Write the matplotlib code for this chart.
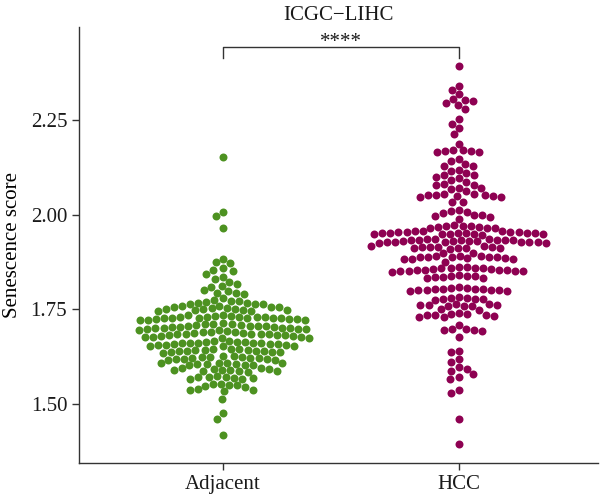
import matplotlib
matplotlib.use("Agg")
import matplotlib.pyplot as plt
import numpy as np

# senescence scores, one group per list
adjacent_scores = [
    2.152, 2.007, 1.997, 1.965,
    1.883, 1.874, 1.872, 1.860, 1.854, 1.852, 1.843, 1.835, 1.829, 1.821,
    1.816, 1.812, 1.810, 1.801, 1.799, 1.794, 1.792, 1.790,
    1.779, 1.775, 1.773, 1.771, 1.770, 1.768, 1.767, 1.765, 1.764, 1.763,
    1.760, 1.758, 1.757, 1.756, 1.755, 1.754, 1.753, 1.752, 1.751, 1.750,
    1.749, 1.748, 1.747, 1.746, 1.745,
    1.735, 1.734, 1.733, 1.732, 1.731, 1.731, 1.730, 1.729, 1.729, 1.728,
    1.728, 1.727, 1.727, 1.726, 1.726, 1.725, 1.724, 1.724, 1.723, 1.722,
    1.721,
    1.713, 1.712, 1.711, 1.710, 1.709, 1.708, 1.707, 1.706, 1.706, 1.705,
    1.704, 1.704, 1.703, 1.702, 1.702, 1.701, 1.700, 1.699, 1.698, 1.697,
    1.696, 1.695,
    1.692, 1.691, 1.690, 1.689, 1.688, 1.687, 1.686, 1.686, 1.685, 1.684,
    1.684, 1.683, 1.682, 1.681, 1.680, 1.679, 1.678, 1.677, 1.676, 1.675,
    1.674,
    1.667, 1.666, 1.665, 1.664, 1.663, 1.662, 1.662, 1.661, 1.660, 1.660,
    1.659, 1.658, 1.658, 1.657, 1.656, 1.655, 1.654, 1.653, 1.652,
    1.646, 1.645, 1.644, 1.643, 1.643, 1.642, 1.641, 1.640, 1.640, 1.639,
    1.638, 1.637, 1.636, 1.635,
    1.627, 1.626, 1.625, 1.624, 1.623, 1.622, 1.622, 1.621, 1.620, 1.619,
    1.618, 1.617, 1.616,
    1.609, 1.608, 1.607, 1.607, 1.606, 1.605, 1.605, 1.604, 1.603, 1.602,
    1.595, 1.594, 1.593, 1.592, 1.591, 1.590, 1.589, 1.588, 1.587, 1.586, 1.585,
    1.573, 1.572, 1.571, 1.570, 1.569, 1.568, 1.566, 1.565,
    1.554, 1.552, 1.551, 1.549, 1.548, 1.546,
    1.540, 1.538, 1.536, 1.534,
    1.513, 1.476, 1.461, 1.418,
]

hcc_scores = [
    2.393, 2.341, 2.329, 2.319, 2.307, 2.303, 2.300, 2.296, 2.291, 2.279,
    2.254, 2.241, 2.230, 2.213, 2.188,
    2.172, 2.170, 2.169, 2.168, 2.167, 2.165,
    2.146, 2.142, 2.133, 2.129, 2.128, 2.118, 2.115, 2.111, 2.105, 2.104,
    2.100, 2.096, 2.092, 2.086,
    2.080, 2.079, 2.078, 2.071, 2.070, 2.067, 2.062,
    2.056, 2.054, 2.053, 2.052, 2.051, 2.050, 2.049, 2.048, 2.047,
    2.034, 2.033,
    2.012, 2.011, 2.008, 2.005, 1.999, 1.998, 1.997, 1.995, 1.990,
    1.972, 1.971, 1.970, 1.969, 1.968, 1.967, 1.966, 1.965, 1.964,
    1.957, 1.956, 1.956, 1.955, 1.955, 1.954, 1.954, 1.953, 1.953, 1.952,
    1.952, 1.951, 1.951, 1.950, 1.950, 1.949, 1.949, 1.948, 1.947,
    1.936, 1.935, 1.935, 1.934, 1.934, 1.933, 1.933, 1.932, 1.932, 1.931,
    1.931, 1.930, 1.930, 1.929, 1.929, 1.928, 1.928, 1.927, 1.927, 1.926, 1.925,
    1.918, 1.917, 1.916, 1.915, 1.915, 1.914, 1.913, 1.913, 1.912, 1.911, 1.910,
    1.900, 1.898,
    1.892, 1.891, 1.890, 1.889, 1.889, 1.888, 1.887, 1.887, 1.886, 1.885,
    1.884, 1.883, 1.882,
    1.876,
    1.862, 1.861, 1.860, 1.859, 1.858, 1.858, 1.857, 1.856, 1.855, 1.855,
    1.854, 1.853, 1.852, 1.852, 1.851, 1.850, 1.849,
    1.840, 1.839, 1.838, 1.837, 1.836, 1.835, 1.834, 1.832,
    1.808, 1.807, 1.806, 1.805, 1.804, 1.804, 1.803, 1.802, 1.802, 1.801,
    1.800, 1.799, 1.798,
    1.783,
    1.780, 1.779, 1.778, 1.778, 1.777, 1.776,
    1.764, 1.763, 1.762, 1.761, 1.761, 1.760, 1.759, 1.758,
    1.750, 1.748,
    1.740, 1.739, 1.738, 1.736, 1.735, 1.734, 1.732, 1.731, 1.729,
    1.709,
    1.698, 1.697, 1.696, 1.695, 1.694,
    1.677,
    1.641, 1.637, 1.619, 1.610, 1.597, 1.593, 1.588, 1.579, 1.572, 1.567,
    1.537, 1.530, 1.461, 1.394,
]

groups = ["Adjacent", "HCC"]
colors = ["#4d9221", "#8e0152"]
yticks = [1.50, 1.75, 2.00, 2.25]

XLIM = (-0.61, 1.59)
YLIM = (1.344, 2.496)
AX_W, AX_H = 519, 436  # axes size in pixels


def swarm(values, d_px, y_scale):
    # simple beeswarm: each point goes as close to the centre as it can
    ys = np.asarray(values) * y_scale
    xs = np.zeros(len(ys))
    placed = []
    for i in np.argsort(-ys):
        y = ys[i]
        near = [(px, py) for px, py in placed if abs(py - y) < d_px]
        cands = [0.0]
        for px, py in near:
            dx = np.sqrt(d_px ** 2 - (py - y) ** 2)
            cands += [px - dx, px + dx]
        cands.sort(key=abs)
        for c in cands:
            if all((c - px) ** 2 + (y - py) ** 2 >= d_px ** 2 - 1e-6
                   for px, py in near):
                xs[i] = c
                break
        placed.append((xs[i], y))
    return xs


plt.rcParams["font.family"] = ["Liberation Serif", "DejaVu Serif"]

fig = plt.figure(figsize=(6, 5.03), dpi=100)
ax = fig.add_axes([79 / 600, 40 / 503, AX_W / 600, AX_H / 503])

x_scale = AX_W / (XLIM[1] - XLIM[0])
y_scale = AX_H / (YLIM[1] - YLIM[0])
for k, vals in enumerate([adjacent_scores, hcc_scores]):
    off = swarm(vals, 8.1, y_scale)
    ax.scatter(k + off / x_scale, vals, s=33, color=colors[k],
               linewidths=0, zorder=3)

ax.set_xlim(*XLIM)
ax.set_ylim(*YLIM)
ax.set_xticks([0, 1])
ax.set_xticklabels(groups)
ax.set_yticks(yticks)
ax.set_yticklabels(["%.2f" % t for t in yticks])
ax.set_ylabel("Senescence score", fontsize=15, labelpad=6)

for s in ["top", "right"]:
    ax.spines[s].set_visible(False)
for s in ["left", "bottom"]:
    ax.spines[s].set_color("#333333")
    ax.spines[s].set_linewidth(1.0)
ax.tick_params(axis="both", length=5, width=1.0, color="#333333",
               labelsize=15, labelcolor="#1a1a1a")

# significance bracket
ax.plot([0, 0, 1, 1], [2.414, 2.443, 2.443, 2.414], color="#333333",
        lw=1.0, clip_on=False)
ax.text(0.5, 2.429, "****", ha="center", va="bottom", fontsize=15,
        color="#1a1a1a")

fig.text(338.5 / 600, 1 - 15 / 503, "ICGC\u2212LIHC", ha="center",
         va="center", fontsize=15, color="#1a1a1a")

fig.savefig("out.png", dpi=100)
